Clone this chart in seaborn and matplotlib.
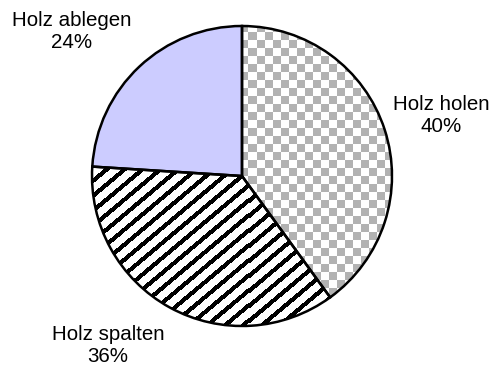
import numpy as np
import matplotlib
matplotlib.use("Agg")
import matplotlib.pyplot as plt
import seaborn as sns

# Arbeitsschritte beim Holzmachen und ihr Zeitanteil
categories = ["Holz holen", "Holz spalten", "Holz ablegen"]
shares = [40, 36, 24]

sns.set_style("white")
plt.rcParams["font.family"] = ["Liberation Sans", "DejaVu Sans"]

W, H = 494, 370
fig = plt.figure(figsize=(W / 100, H / 100), dpi=100)
ax = fig.add_axes([0, 0, 1, 1])

center = (242, H - 176)
radius = 150

# Flächen der Segmente
base_colors = ["white", "white", "#ccccff"]
wedges, _ = ax.pie(shares, startangle=90, counterclock=False, center=center,
                   radius=radius, colors=base_colors,
                   wedgeprops=dict(linewidth=0, zorder=1), frame=True)

# Muster als Pixelraster: Schachbrett und Schraffur
yy, xx = np.mgrid[0:H, 0:W]
checker = ((xx // 8 + yy // 8) % 2).astype(float)
checker_rgb = np.where(checker[..., None] == 0,
                       np.array([1.0, 1.0, 1.0]),
                       np.array([0.70, 0.70, 0.70]))

theta = np.deg2rad(40)
s = xx * np.sin(theta) + yy * np.cos(theta)
stripes = (np.mod(s, 11.5) < 4.3)
stripe_rgb = np.where(stripes[..., None], np.array([0.0, 0.0, 0.0]),
                      np.array([1.0, 1.0, 1.0]))

for img, wedge in [(checker_rgb, wedges[0]), (stripe_rgb, wedges[1])]:
    im = ax.imshow(img, extent=(0, W, 0, H), origin="upper",
                   interpolation="nearest", zorder=2)
    im.set_clip_path(wedge)

# Umrisse
ax.pie(shares, startangle=90, counterclock=False, center=center,
       radius=radius,
       wedgeprops=dict(fill=False, edgecolor="black", linewidth=1.8, zorder=3),
       frame=True)

ax.set_xlim(0, W)
ax.set_ylim(0, H)
ax.set_aspect("equal")
ax.axis("off")

# Beschriftungen außerhalb des Kreises
label_pos = [(441, 116), (108, 346), (72, 32)]
for name, val, (lx, ly) in zip(categories, shares, label_pos):
    ax.text(lx, H - ly, f"{name}\n{val}%", ha="center", va="center",
            fontsize=14.8, linespacing=1.2, color="black")

fig.savefig("out.png", dpi=100)
